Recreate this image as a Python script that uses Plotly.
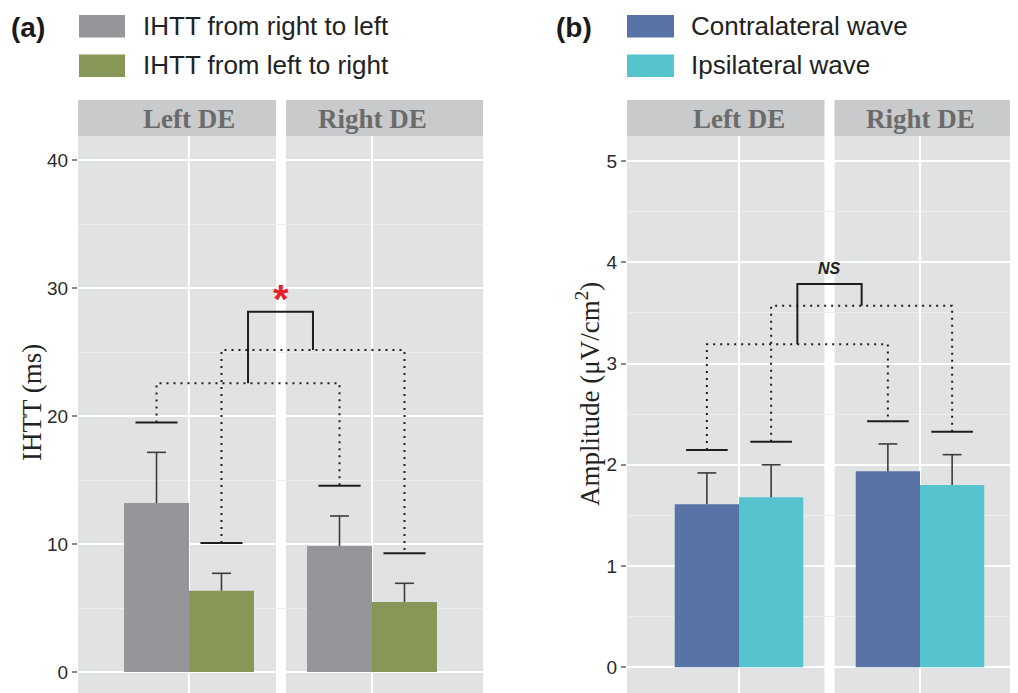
import plotly.graph_objects as go

# the page body adds an 8px margin; lay the figure out in page pixels
OFF = 8
W, H = 1018 - OFF, 693 - OFF

# ---------------- data ----------------
facets = ["Left DE", "Right DE"]

a_series = ["IHTT from right to left", "IHTT from left to right"]
a_rl_mean = [13.2, 9.84]
a_rl_se = [3.96, 2.35]
a_lr_mean = [6.35, 5.47]
a_lr_se = [1.36, 1.46]
a_rl_cap = [19.5, 14.56]
a_lr_cap = [10.08, 9.27]
a_link = [22.55, 25.16]      # right-to-left pair, left-to-right pair
a_top = 28.15
a_mark_y = 29.5
a_mark = "<b>*</b>"
a_yticks = [0, 10, 20, 30, 40]
a_ytitle = "IHTT (ms)"

b_series = ["Contralateral wave", "Ipsilateral wave"]
b_contra_mean = [1.61, 1.936]
b_contra_se = [0.31, 0.27]
b_ipsi_mean = [1.68, 1.80]
b_ipsi_se = [0.32, 0.30]
b_contra_cap = [2.146, 2.43]
b_ipsi_cap = [2.228, 2.327]
b_link = [3.19, 3.571]
b_top = 3.786
b_mark_y = 3.94
b_mark = "<b><i>NS</i></b>"
b_yticks = [0, 1, 2, 3, 4, 5]
b_ytitle = "Amplitude (\u03bcV/cm<sup>2</sup>)"

# ---------------- style ----------------
GRAY = "#959699"
GREEN = "#879758"
BLUE = "#5873A6"
CYAN = "#55C4CE"
PANEL_BG = "#E1E2E4"
STRIP_BG = "#C9CACC"
STRIP_TXT = "#6B6B6B"
LINE = "#1e1e1e"
ERR = "#3c3c3c"
BARGAP = 0.29
CAP_HALF = 0.115
ERR_HALF = 0.052
SANS = "Liberation Sans, Arial, sans-serif"
SERIF = "Liberation Serif, Times New Roman, serif"

xpos = [i + 1 for i in range(len(facets))]
hw = (1 - BARGAP) / 4.0

def px(x):
    return (x - OFF) / W

def py(y):
    return 1 - (y - OFF) / H

PAGE_W, PAGE_H = 1018, 693
PLOT_TOP = 136
STRIP_TOP = 100
ydom = [0, py(PLOT_TOP)]

panels = [
    dict(xa="x", ya="y", left=78, right=483, cats=(189, 372), gap=(276, 286),
         yr=(672, 12.8), ticks=a_yticks, minor=5,
         means=(a_rl_mean, a_lr_mean), ses=(a_rl_se, a_lr_se),
         caps=(a_rl_cap, a_lr_cap), link=a_link, top=a_top,
         mark=a_mark, mark_y=a_mark_y, mark_font=dict(size=40, color="#E8202A", family=SANS),
         mark_shift=-5,
         colors=(GRAY, GREEN), names=a_series, label="(a)", label_x=9,
         key_x=(79, 125), text_x=141, ytitle=a_ytitle, ytitle_pos=(32, 403)),
    dict(xa="x2", ya="y2", left=627, right=1018, cats=(739, 920), gap=(824.5, 834.5),
         yr=(667.3, 101.25), ticks=b_yticks, minor=0.5,
         means=(b_contra_mean, b_ipsi_mean), ses=(b_contra_se, b_ipsi_se),
         caps=(b_contra_cap, b_ipsi_cap), link=b_link, top=b_top,
         mark=b_mark, mark_y=b_mark_y, mark_font=dict(size=16, color="#222222", family=SANS),
         mark_shift=0,
         colors=(BLUE, CYAN), names=b_series, label="(b)", label_x=554,
         key_x=(627, 674), text_x=689, ytitle=b_ytitle, ytitle_pos=(588, 394)),
]

fig = go.Figure()
shapes = []
annotations = []
layout_axes = {}

for pi, p in enumerate(panels):
    unit = p["cats"][1] - p["cats"][0]
    x_of = lambda xp: 1 + (xp - p["cats"][0]) / unit
    xrange_ = [x_of(p["left"]), x_of(p["right"])]
    y0px, ppu = p["yr"]
    yrange_ = [(y0px - PAGE_H) / ppu, (y0px - PLOT_TOP) / ppu]

    centers = [[c - hw for c in xpos], [c + hw for c in xpos]]

    # bars
    for s in range(2):
        fig.add_trace(go.Bar(
            x=xpos, y=p["means"][s], name=p["names"][s],
            marker=dict(color=p["colors"][s], line=dict(width=0)),
            offsetgroup=str(s), xaxis=p["xa"], yaxis=p["ya"], showlegend=False,
            hoverinfo="skip"))

    # error bars (upper whisker only, as the lower half is hidden by the bar)
    ex, ey = [], []
    for s in range(2):
        for k in range(len(xpos)):
            c = centers[s][k]
            top = p["means"][s][k] + p["ses"][s][k]
            ex += [c, c, None, c - ERR_HALF, c + ERR_HALF, None]
            ey += [p["means"][s][k], top, None, top, top, None]
    fig.add_trace(go.Scatter(x=ex, y=ey, mode="lines", line=dict(color=ERR, width=1.6),
                             xaxis=p["xa"], yaxis=p["ya"], showlegend=False, hoverinfo="skip"))

    # caps (solid short horizontal lines)
    cx, cy = [], []
    for s in range(2):
        for k in range(len(xpos)):
            cx += [centers[s][k] - CAP_HALF, centers[s][k] + CAP_HALF, None]
            cy += [p["caps"][s][k], p["caps"][s][k], None]
    fig.add_trace(go.Scatter(x=cx, y=cy, mode="lines", line=dict(color=LINE, width=2),
                             xaxis=p["xa"], yaxis=p["ya"], showlegend=False, hoverinfo="skip"))

    # dotted links
    dx, dy = [], []
    for s in range(2):
        c0, c1 = centers[s][0], centers[s][1]
        dx += [c0, c0, c1, c1, None]
        dy += [p["caps"][s][0], p["link"][s], p["link"][s], p["caps"][s][1], None]
    fig.add_trace(go.Scatter(x=dx, y=dy, mode="lines",
                             line=dict(color=LINE, width=2, dash="2px,5px"),
                             xaxis=p["xa"], yaxis=p["ya"], showlegend=False, hoverinfo="skip"))

    # top bracket
    m0 = (centers[0][0] + centers[0][1]) / 2
    m1 = (centers[1][0] + centers[1][1]) / 2
    fig.add_trace(go.Scatter(x=[m0, m0, m1, m1], y=[p["link"][0], p["top"], p["top"], p["link"][1]],
                             mode="lines", line=dict(color=LINE, width=2),
                             xaxis=p["xa"], yaxis=p["ya"], showlegend=False, hoverinfo="skip"))
    annotations.append(dict(x=(m0 + m1) / 2, y=p["mark_y"], xref=p["xa"], yref=p["ya"],
                            text=p["mark"], showarrow=False, font=p["mark_font"],
                            xanchor="center", yanchor="middle", yshift=p["mark_shift"]))

    # facet gap
    shapes.append(dict(type="rect", xref=p["xa"], yref=p["ya"] + " domain",
                       x0=x_of(p["gap"][0]), x1=x_of(p["gap"][1]), y0=0, y1=1,
                       fillcolor="white", line=dict(width=0), layer="below"))
    # strips
    right_strip_end = p["right"] if p["right"] < PAGE_W else p["gap"][1] + (p["gap"][0] - p["left"])
    strips = [(p["left"], p["gap"][0]), (p["gap"][1], right_strip_end)]
    for k, (l, r) in enumerate(strips):
        rr = min(r, PAGE_W)
        shapes.append(dict(type="rect", xref="paper", yref="paper",
                           x0=px(l), x1=px(rr), y0=py(PLOT_TOP), y1=py(STRIP_TOP),
                           fillcolor=STRIP_BG, line=dict(width=0), layer="above"))
        annotations.append(dict(x=xpos[k], y=py((PLOT_TOP + STRIP_TOP) / 2 + 1),
                                xref=p["xa"], yref="paper", text="<b>%s</b>" % facets[k],
                                showarrow=False, xanchor="center", yanchor="middle",
                                font=dict(family=SERIF, size=27, color=STRIP_TXT)))

    # legend keys
    for s in range(2):
        ky0 = 15 + s * 39.5
        shapes.append(dict(type="rect", xref="paper", yref="paper",
                           x0=px(p["key_x"][0]), x1=px(p["key_x"][1]),
                           y0=py(ky0 + 22.5), y1=py(ky0),
                           fillcolor=p["colors"][s], line=dict(width=0), layer="above"))
        annotations.append(dict(x=px(p["text_x"]), y=py(ky0 + 11), xref="paper", yref="paper",
                                text=p["names"][s], showarrow=False, xanchor="left",
                                yanchor="middle",
                                font=dict(family=SANS, size=26, color="#222222")))
    annotations.append(dict(x=px(p["label_x"]), y=py(27), xref="paper", yref="paper",
                            text="<b>%s</b>" % p["label"], showarrow=False, xanchor="left",
                            yanchor="middle", font=dict(family=SANS, size=28, color="#1a1a1a")))
    annotations.append(dict(x=px(p["ytitle_pos"][0]), y=py(p["ytitle_pos"][1]), xref="paper",
                            yref="paper", text=p["ytitle"], showarrow=False, textangle=-90,
                            xanchor="center", yanchor="middle",
                            font=dict(family=SERIF, size=27, color="#222222")))

    xkey = "xaxis" if pi == 0 else "xaxis2"
    ykey = "yaxis" if pi == 0 else "yaxis2"
    layout_axes[xkey] = dict(domain=[px(p["left"]), px(min(p["right"], PAGE_W))], range=xrange_,
                             anchor=p["ya"], tickvals=xpos, showticklabels=False, ticks="",
                             showgrid=True, gridcolor="white", gridwidth=2, zeroline=False,
                             showline=False, fixedrange=True, automargin=False)
    layout_axes[ykey] = dict(domain=ydom, range=yrange_, anchor=p["xa"], tickvals=p["ticks"],
                             ticks="outside", ticklen=5, tickwidth=1.5, tickcolor="#8a8a8a",
                             tickfont=dict(family=SANS, size=19, color="#2a2a2a"),
                             showgrid=True, gridcolor="white", gridwidth=2, zeroline=False,
                             showline=False, fixedrange=True, automargin=False,
                             minor=dict(dtick=p["minor"], tick0=0, showgrid=True,
                                        gridcolor="#EDEDEF", gridwidth=1, ticks=""))

fig.update_layout(
    template="none",
    width=W, height=H, margin=dict(l=0, r=0, t=0, b=0, autoexpand=False),
    paper_bgcolor="white", plot_bgcolor=PANEL_BG,
    barmode="group", bargap=BARGAP, bargroupgap=0,
    showlegend=False, shapes=shapes, annotations=annotations,
    **layout_axes,
)

fig.write_html("out.html")
